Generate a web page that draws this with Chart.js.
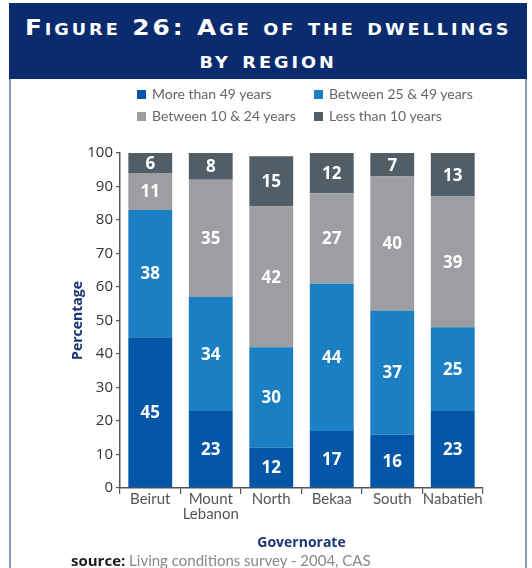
<!DOCTYPE html>
<html>
<head>
<meta charset="utf-8">
<script src="https://cdn.jsdelivr.net/npm/chart.js@4.4.1/dist/chart.umd.min.js"></script>
<style>
  body { margin: 0; background: #fff; }
  #wrap { position: relative; width: 532px; height: 568px; overflow: hidden; background: #fff; }
  #chart { position: absolute; left: 0; top: 0; }
  #banner {
    position: absolute; left: 9px; top: 3px; width: 518px; height: 76px;
    background: #0a2c6e; color: #fff; text-align: center;
    font-family: "DejaVu Sans", sans-serif; font-weight: bold; font-size: 21px;
    font-variant: small-caps; letter-spacing: 2.5px; line-height: 33px; padding-top: 9px; box-sizing: border-box;
  }
  #banner div { display: inline-block; transform: scaleX(1.18); white-space: nowrap; }
  .frame { position: absolute; background: #8696bf; }
  .leg { position: absolute; font-family: Lato, sans-serif; font-size: 14px; color: #666; white-space: nowrap; }
  .leg i { position: absolute; left: 0; top: 0; width: 9px; height: 9px; }
  .leg span { position: absolute; left: 15px; top: -5px; }
  #source { position: absolute; left: 71px; top: 550px; font-size: 15px; white-space: nowrap; color: #888; font-family: Lato, sans-serif; }
  #source b { font-family: "Open Sans", sans-serif; color: #1a1a1a; }
</style>
</head>
<body>
<div id="wrap">
  <canvas id="chart" width="532" height="568"></canvas>
  <div id="banner"><div>Figure 26: Age of the dwellings</div><br><div>by region</div></div>
  <div class="frame" style="left:9px;top:79px;width:2px;height:489px;"></div>
  <div class="frame" style="left:525px;top:79px;width:2px;height:489px;"></div>
  <div id="legend"></div>
  <div id="source"><b>source:</b> Living conditions survey - 2004, CAS</div>
</div>
<script>
// data
const regions = [['Beirut'], ['Mount', 'Lebanon'], ['North'], ['Bekaa'], ['South'], ['Nabatieh']];
const seriesNames = ['More than 49 years', 'Between 25 & 49 years', 'Between 10 & 24 years', 'Less than 10 years'];
const moreThan49 = [45, 23, 12, 17, 16, 23];
const from25to49 = [38, 34, 30, 44, 37, 25];
const from10to24 = [11, 35, 42, 27, 40, 39];
const lessThan10 = [6, 8, 15, 12, 7, 13];
const seriesColors = ['#0457a7', '#1a7fc3', '#9d9ea2', '#525e67'];
const yTicks = [0, 10, 20, 30, 40, 50, 60, 70, 80, 90, 100];

const allSeries = [moreThan49, from25to49, from10to24, lessThan10];

// legend (2 columns)
const legendBox = document.getElementById('legend');
const legX = [137, 314], legY = [90, 112];
seriesNames.forEach((name, i) => {
  const d = document.createElement('div');
  d.className = 'leg';
  d.style.left = legX[i % 2] + 'px';
  d.style.top = legY[Math.floor(i / 2)] + 'px';
  d.innerHTML = '<i style="background:' + seriesColors[i] + '"></i><span>' + name + '</span>';
  legendBox.appendChild(d);
});

// white numbers in the middle of every segment
const segmentLabels = {
  id: 'segmentLabels',
  afterDatasetsDraw(chart) {
    const ctx = chart.ctx;
    ctx.save();
    ctx.fillStyle = '#fff';
    ctx.font = 'bold 17px "Open Sans", sans-serif';
    ctx.textAlign = 'center';
    ctx.textBaseline = 'middle';
    chart.data.datasets.forEach((ds, di) => {
      const meta = chart.getDatasetMeta(di);
      meta.data.forEach((bar, i) => {
        ctx.fillText(String(ds.data[i]), bar.x, (bar.y + bar.base) / 2 + 1);
      });
    });
    ctx.restore();
  }
};

new Chart(document.getElementById('chart'), {
  type: 'bar',
  data: {
    labels: regions,
    datasets: allSeries.map((vals, i) => ({
      label: seriesNames[i],
      data: vals,
      backgroundColor: seriesColors[i],
      borderWidth: 0,
      barPercentage: 0.725,
      categoryPercentage: 1
    }))
  },
  options: {
    responsive: false,
    animation: false,
    layout: { padding: { left: 70, right: 49, top: 153, bottom: 17 } },
    plugins: { legend: { display: false }, tooltip: { enabled: false } },
    scales: {
      x: {
        stacked: true,
        afterFit: s => { s.height = 63; },
        grid: { offset: true, drawOnChartArea: false, drawTicks: true, tickLength: 6, color: '#555', lineWidth: 1.2 },
        border: { color: '#555', width: 1.5 },
        ticks: { color: '#555', font: { family: 'Lato', size: 15, lineHeight: 1 }, padding: -2, maxRotation: 0, autoSkip: false },
        title: { display: true, text: 'Governorate', color: '#1b3575', font: { family: '"Open Sans"', size: 14, weight: 'bold' }, padding: 0 }
      },
      y: {
        stacked: true,
        min: 0, max: 100,
        afterFit: s => { s.width = 50; },
        afterBuildTicks: s => { s.ticks = yTicks.map(v => ({ value: v })); },
        grid: { drawOnChartArea: false, drawTicks: true, tickLength: 4, color: '#555', lineWidth: 1.2 },
        border: { color: '#555', width: 1.5 },
        ticks: { color: '#333', font: { family: '"Open Sans"', size: 15 }, padding: 3 },
        title: { display: true, text: 'Percentage', color: '#1b3575', font: { family: '"Open Sans"', size: 14, weight: 'bold' }, padding: 0 }
      }
    }
  },
  plugins: [segmentLabels]
});
</script>
</body>
</html>
